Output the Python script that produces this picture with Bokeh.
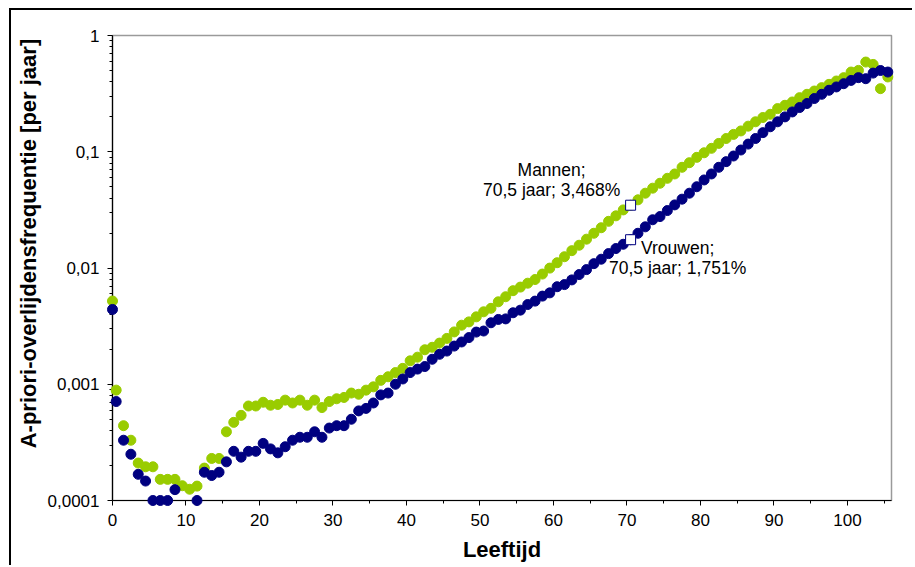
from bokeh.plotting import figure
from bokeh.models import Range1d, FixedTicker, Label, ColumnDataSource, CustomJSTickFormatter
from bokeh.embed import file_html
from bokeh.resources import INLINE

nan = float("nan")

ages = [0, 0.5, 1.5, 2.5, 3.5, 4.5, 5.5, 6.5, 7.5, 8.5, 9.5,
        10.5, 11.5, 12.5, 13.5, 14.5, 15.5, 16.5, 17.5, 18.5, 19.5,
        20.5, 21.5, 22.5, 23.5, 24.5, 25.5, 26.5, 27.5, 28.5, 29.5,
        30.5, 31.5, 32.5, 33.5, 34.5, 35.5, 36.5, 37.5, 38.5, 39.5,
        40.5, 41.5, 42.5, 43.5, 44.5, 45.5, 46.5, 47.5, 48.5, 49.5,
        50.5, 51.5, 52.5, 53.5, 54.5, 55.5, 56.5, 57.5, 58.5, 59.5,
        60.5, 61.5, 62.5, 63.5, 64.5, 65.5, 66.5, 67.5, 68.5, 69.5,
        70.5, 71.5, 72.5, 73.5, 74.5, 75.5, 76.5, 77.5, 78.5, 79.5,
        80.5, 81.5, 82.5, 83.5, 84.5, 85.5, 86.5, 87.5, 88.5, 89.5,
        90.5, 91.5, 92.5, 93.5, 94.5, 95.5, 96.5, 97.5, 98.5, 99.5,
        100.5, 101.5, 102.5, 103.5, 104.5, 105.5]

mannen = [0.0052, 0.00089, 0.00044, 0.00033, 0.00021, 0.000195, 0.000195, 0.000152, 0.000152, 0.000152, 0.000134,
          0.000125, 0.000133, 0.00019, 0.00023, 0.00023, 0.00039, 0.00047, 0.00054, 0.00065, 0.00065,
          0.0007, 0.00066, 0.00067, 0.00073, 0.00069, 0.00073, 0.00066, 0.00073, 0.00063, 0.00071,
          0.00075, 0.00077, 0.00084, 0.00082, 0.00089, 0.00095, 0.00108, 0.00116, 0.00126, 0.00137,
          0.00159, 0.00171, 0.00198, 0.00208, 0.00226, 0.00248, 0.00282, 0.00322, 0.00344, 0.00380,
          0.00420, 0.00450, 0.00512, 0.00566, 0.00638, 0.00685, 0.00740, 0.00796, 0.00887, 0.00998,
          0.0111, 0.0125, 0.0141, 0.0157, 0.0177, 0.0199, 0.0222, 0.0252, 0.0281, 0.0316,
          0.03468, 0.0386, 0.044, 0.0486, 0.0536, 0.0591, 0.0644, 0.0735, 0.0805, 0.0895,
          0.098, 0.107, 0.118, 0.130, 0.141, 0.151, 0.166, 0.181, 0.197, 0.210,
          0.235, 0.251, 0.268, 0.292, 0.312, 0.333, 0.356, 0.380, 0.406, 0.434,
          0.485, 0.501, 0.591, 0.564, 0.349, 0.44]

vrouwen = [0.0044, 0.00071, 0.00033, 0.00025, 0.000168, 0.000147, 0.0001, 0.0001, 0.0001, 0.000124, nan,
           nan, 0.0001, 0.000175, 0.000164, 0.000175, 0.000215, 0.000265, 0.000236, 0.000265, 0.000265,
           0.00031, 0.000278, 0.000257, 0.00029, 0.00033, 0.00035, 0.00035, 0.00039, 0.00035, 0.00042,
           0.00044, 0.00044, 0.0005, 0.00059, 0.00062, 0.00069, 0.00081, 0.00084, 0.001, 0.00111,
           0.00126, 0.00135, 0.00142, 0.00164, 0.00181, 0.00193, 0.00213, 0.00231, 0.00252, 0.00281,
           0.00287, 0.00338, 0.00361, 0.00365, 0.00412, 0.00434, 0.00485, 0.00519, 0.00573, 0.00611,
           0.0069, 0.0072, 0.0079, 0.00878, 0.00969, 0.0109, 0.0119, 0.0133, 0.0147, 0.016,
           0.01751, 0.0199, 0.0226, 0.026, 0.0277, 0.0312, 0.0349, 0.0391, 0.044, 0.050,
           0.0572, 0.0644, 0.0735, 0.0822, 0.0919, 0.1035, 0.1164, 0.130, 0.146, 0.164,
           0.181, 0.1995, 0.220, 0.240, 0.260, 0.287, 0.312, 0.338, 0.361, 0.385,
           0.411, 0.434, 0.425, 0.475, 0.50, 0.485]

marked_age = [70.5, 70.5]
marked_val = [0.03468, 0.01751]
label_mannen = ["Mannen;", "70,5 jaar; 3,468%"]
label_vrouwen = ["Vrouwen;", "70,5 jaar; 1,751%"]

x_title = "Leeftijd"
y_title = "A-priori-overlijdensfrequentie [per jaar]"

x_major = [0, 10, 20, 30, 40, 50, 60, 70, 80, 90, 100]
x_minor = [5, 15, 25, 35, 45, 55, 65, 75, 85, 95, 105]
y_major = [0.0001, 0.001, 0.01, 0.1, 1]
y_minor = [m * 10.0 ** e for e in range(-4, 0) for m in range(2, 10)]

FONT = "Liberation Sans"
GREEN = "#99CC00"
NAVY = "#000080"

p = figure(width=903, height=557, output_backend="svg", toolbar_location=None,
           y_axis_type="log",
           x_range=Range1d(0, 106), y_range=Range1d(0.0001, 1),
           min_border_left=101, min_border_right=23, min_border_top=25, min_border_bottom=67)
p.styles = {"margin-left": "9px", "margin-top": "8px",
            "border-left": "2px solid black", "border-top": "2px solid black"}
p.grid.visible = False
p.outline_line_color = "#9a9a9a"
p.outline_line_width = 1.5
p.background_fill_color = "white"
p.border_fill_color = "white"

p.xaxis.ticker = FixedTicker(ticks=x_major, minor_ticks=x_minor)
p.yaxis.ticker = FixedTicker(ticks=y_major, minor_ticks=y_minor)
p.yaxis.formatter = CustomJSTickFormatter(code="return String(tick).replace('.', ',');")

for ax in (p.xaxis[0], p.yaxis[0]):
    ax.axis_line_color = "black"
    ax.axis_line_width = 1.2
    ax.major_tick_line_color = "black"
    ax.minor_tick_line_color = "black"
    ax.major_tick_in = 0
    ax.major_tick_out = 5
    ax.minor_tick_in = 0
    ax.minor_tick_out = 3
    ax.major_label_text_font = FONT
    ax.major_label_text_font_size = "17px"
    ax.major_label_text_color = "black"
    ax.axis_label_text_font = FONT
    ax.axis_label_text_font_style = "bold"
    ax.axis_label_text_color = "black"
    ax.axis_label_text_font_size = "22px"

p.xaxis.axis_label = x_title
# leading no-break spaces shift the rotated title upward, as in the original
p.yaxis.axis_label = "\u00a0" * 8 + y_title
p.xaxis.major_label_standoff = 8
p.yaxis.major_label_standoff = 8
p.xaxis.axis_label_standoff = 8
p.yaxis.axis_label_standoff = 4

src = ColumnDataSource(dict(age=ages, m=mannen, v=vrouwen))
p.scatter("age", "m", source=src, size=10, marker="circle",
          fill_color=GREEN, line_color=GREEN, level="overlay")
p.scatter("age", "v", source=src, size=10, marker="circle",
          fill_color=NAVY, line_color=NAVY, level="overlay")
p.scatter(marked_age, marked_val, size=10, marker="square",
          fill_color="white", line_color=NAVY, line_width=1, level="overlay")

for i, t in enumerate(label_mannen):
    p.add_layout(Label(x=marked_age[0], y=marked_val[0], x_offset=-79, y_offset=35 - 20 * i,
                       text=t, text_align="center", text_baseline="alphabetic",
                       text_font=FONT, text_font_size="17.5px", text_color="black"))
for i, t in enumerate(label_vrouwen):
    p.add_layout(Label(x=marked_age[1], y=marked_val[1], x_offset=47, y_offset=-8 - 20 * i,
                       text=t, text_align="center", text_baseline="alphabetic",
                       text_font=FONT, text_font_size="17.5px", text_color="black"))

open("out.html", "w").write(file_html(p, INLINE))
